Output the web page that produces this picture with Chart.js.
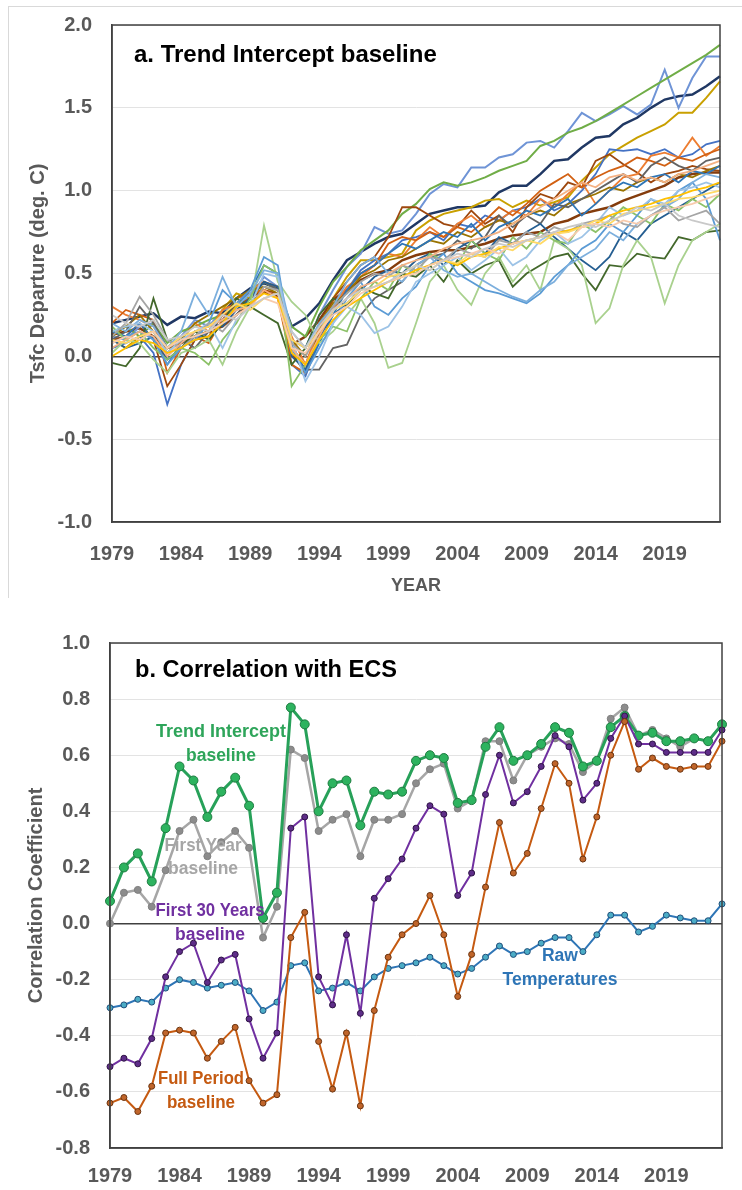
<!DOCTYPE html>
<html>
<head>
<meta charset="utf-8">
<script src="https://cdn.jsdelivr.net/npm/chart.js@4.4.1/dist/chart.umd.min.js"></script>
<style>
html, body { margin: 0; padding: 0; background: #fff; }
#frameA { position: absolute; left: 8px; top: 6px; width: 740px; height: 591px; border-left: 1px solid #d9d9d9; border-top: 1px solid #d9d9d9; }
#wrapA { position: absolute; left: 0; top: 0; width: 742px; height: 600px; }
#wrapB { position: absolute; left: 0; top: 600px; width: 742px; height: 590px; }
</style>
</head>
<body>
<div id="frameA"></div>
<div id="wrapA"><canvas id="plotA"></canvas></div>
<div id="wrapB"><canvas id="plotB"></canvas></div>
<script>
// years on the x axis, 1979..2023
const years = [];
for (let y = 1979; y <= 2023; y++) years.push(String(y));

// ---- panel a: model Tsfc departures (trend intercept baseline), deg C ----
const mHiBlue   = [0.12,0.10,0.18,0.20,0.05,0.12,0.22,0.18,0.28,0.30,0.36,0.48,0.42,0.10,0.05,0.25,0.40,0.54,0.62,0.78,0.74,0.76,0.86,0.98,1.04,1.02,1.14,1.14,1.20,1.22,1.29,1.30,1.26,1.36,1.47,1.42,1.46,1.51,1.46,1.52,1.73,1.50,1.68,1.81,1.81];
const mGreenTop = [0.15,0.18,0.12,0.20,0.08,0.15,0.18,0.22,0.25,0.30,0.35,0.45,0.40,0.18,0.12,0.30,0.45,0.54,0.64,0.70,0.76,0.86,0.92,1.01,1.05,1.03,1.05,1.08,1.12,1.15,1.18,1.27,1.30,1.35,1.38,1.42,1.47,1.52,1.57,1.62,1.67,1.72,1.77,1.82,1.88];
const mNavy     = [0.20,0.22,0.24,0.26,0.19,0.24,0.23,0.27,0.26,0.35,0.41,0.44,0.41,0.18,0.23,0.32,0.46,0.58,0.63,0.68,0.72,0.74,0.80,0.86,0.88,0.90,0.90,0.91,0.99,1.03,1.03,1.10,1.18,1.19,1.26,1.32,1.33,1.40,1.44,1.50,1.55,1.57,1.58,1.63,1.69];
const mGold     = [0.10,0.05,0.12,0.15,0.02,0.10,0.12,0.15,0.28,0.38,0.35,0.42,0.40,0.05,-0.05,0.15,0.35,0.48,0.58,0.58,0.60,0.62,0.76,0.82,0.86,0.88,0.90,0.94,0.95,0.90,0.94,0.91,0.93,0.96,1.06,1.14,1.22,1.27,1.32,1.36,1.40,1.47,1.47,1.56,1.66];
const mMean     = [0.13,0.15,0.17,0.12,0.05,0.08,0.12,0.15,0.18,0.25,0.32,0.39,0.36,0.07,0.12,0.22,0.34,0.40,0.46,0.50,0.52,0.58,0.61,0.63,0.64,0.64,0.66,0.68,0.71,0.73,0.74,0.75,0.80,0.82,0.86,0.88,0.90,0.94,0.97,1.00,1.03,1.08,1.10,1.11,1.11];
const mRust     = [0.10,0.12,0.20,0.10,-0.18,-0.05,0.10,0.12,0.25,0.30,0.35,0.40,0.38,0.02,-0.10,0.15,0.35,0.45,0.55,0.60,0.72,0.90,0.90,0.85,0.80,0.78,0.88,0.80,0.85,0.75,0.90,0.98,0.95,1.05,1.02,1.18,1.22,1.16,1.11,1.05,1.10,1.12,1.15,1.13,1.12];
const mOrange   = [0.30,0.25,0.22,0.18,0.05,0.10,0.20,0.15,0.28,0.32,0.40,0.45,0.42,0.12,-0.05,0.18,0.30,0.42,0.48,0.55,0.62,0.60,0.70,0.78,0.72,0.80,0.85,0.78,0.82,0.88,0.85,0.95,0.90,0.98,1.05,0.92,1.00,1.08,1.10,1.21,1.23,1.20,1.32,1.21,1.27];
const mBlueDip  = [0.05,0.08,0.12,0.02,-0.29,-0.05,0.10,0.15,0.20,0.30,0.38,0.45,0.40,-0.05,-0.12,0.10,0.30,0.40,0.52,0.58,0.62,0.70,0.72,0.75,0.70,0.80,0.78,0.85,0.82,0.88,0.90,0.95,0.88,0.92,1.00,1.10,1.25,1.24,1.25,1.22,1.25,1.20,1.22,1.28,1.30];
const mLtGreen  = [0.02,0.10,0.08,-0.02,-0.10,0.02,0.05,0.10,-0.05,0.15,0.30,0.79,0.45,0.33,0.25,0.08,0.15,0.25,0.35,0.20,-0.07,-0.04,0.20,0.45,0.55,0.40,0.31,0.50,0.60,0.45,0.55,0.40,0.70,0.65,0.55,0.20,0.29,0.55,0.70,0.60,0.32,0.55,0.70,0.75,0.80];
const mDkGreen  = [-0.04,-0.06,0.05,0.35,0.10,0.05,0.15,0.10,0.20,0.35,0.30,0.25,0.20,-0.05,0.05,0.25,0.35,0.30,0.42,0.38,0.35,0.50,0.48,0.55,0.45,0.58,0.50,0.55,0.58,0.42,0.50,0.55,0.60,0.62,0.50,0.40,0.55,0.54,0.62,0.60,0.59,0.72,0.70,0.75,0.76];
const mSkyBlue  = [0.08,0.12,0.15,0.10,-0.05,0.05,0.10,0.20,0.40,0.32,0.40,0.60,0.55,0.05,-0.10,0.05,0.20,0.35,0.45,0.30,0.25,0.35,0.42,0.55,0.62,0.50,0.45,0.40,0.38,0.35,0.32,0.38,0.48,0.55,0.65,0.70,0.80,0.75,0.85,0.95,0.90,1.00,1.05,0.95,0.70];
const mLtBlue   = [0.15,0.18,0.20,0.15,0.02,0.10,0.15,0.20,0.05,0.22,0.30,0.50,0.48,0.10,-0.15,0.00,0.20,0.30,0.25,0.14,0.18,0.30,0.45,0.50,0.55,0.60,0.52,0.58,0.65,0.55,0.60,0.70,0.75,0.68,0.72,0.80,0.90,0.85,0.88,0.95,0.92,1.00,1.02,1.05,1.02];
const mDkGray   = [0.10,0.15,0.30,0.20,0.05,0.10,0.05,0.15,0.20,0.25,0.35,0.45,0.40,0.05,-0.08,-0.08,0.05,0.07,0.25,0.35,0.40,0.45,0.55,0.60,0.62,0.70,0.65,0.72,0.85,0.78,0.85,0.80,0.92,0.90,0.95,1.00,1.05,1.10,1.05,1.15,1.20,1.15,1.12,1.18,1.20];
const mGray     = [0.12,0.20,0.36,0.25,0.10,0.05,0.12,0.20,0.15,0.25,0.30,0.42,0.40,0.08,0.00,0.15,0.30,0.38,0.45,0.50,0.48,0.55,0.52,0.60,0.58,0.65,0.62,0.60,0.70,0.68,0.75,0.72,0.78,0.75,0.80,0.82,0.85,0.80,0.78,0.85,0.90,0.82,0.85,0.88,0.80];
const mLtOrange = [0.05,0.10,0.15,0.12,0.00,0.08,0.15,0.18,0.22,0.28,0.30,0.40,0.35,0.05,-0.05,0.12,0.28,0.35,0.42,0.45,0.50,0.55,0.58,0.60,0.65,0.68,0.70,0.72,0.75,0.80,0.85,0.90,0.95,1.00,1.05,1.02,1.08,1.10,1.06,1.08,1.05,1.10,1.12,1.15,1.18];
const mYellow   = [0.00,0.05,0.10,0.08,0.02,0.05,0.10,0.12,0.20,0.30,0.32,0.38,0.35,0.02,-0.05,0.10,0.22,0.30,0.35,0.40,0.45,0.48,0.52,0.55,0.58,0.55,0.60,0.62,0.65,0.68,0.70,0.72,0.74,0.76,0.78,0.80,0.85,0.88,0.90,0.92,0.95,0.97,1.00,1.02,1.05];
const mPaleYel  = [0.10,0.08,0.12,0.15,0.05,0.12,0.15,0.18,0.25,0.32,0.28,0.35,0.38,0.10,0.05,0.15,0.28,0.32,0.40,0.42,0.48,0.50,0.55,0.52,0.58,0.56,0.62,0.60,0.66,0.64,0.70,0.68,0.74,0.75,0.78,0.82,0.80,0.86,0.88,0.90,0.92,0.95,0.96,0.98,1.00];
const mMidGreen = [0.18,0.10,0.15,0.05,-0.02,0.05,0.02,-0.05,0.10,0.20,0.35,0.55,0.50,-0.18,-0.05,0.10,0.18,0.15,0.35,0.45,0.40,0.55,0.50,0.62,0.58,0.55,0.70,0.62,0.58,0.72,0.65,0.75,0.70,0.68,0.80,0.75,0.82,0.90,0.85,0.80,0.92,0.88,0.95,0.90,0.98];
const mSteel    = [0.15,0.12,0.20,0.10,-0.05,0.08,0.15,0.18,0.22,0.30,0.40,0.55,0.50,0.08,-0.10,0.08,0.25,0.40,0.50,0.55,0.62,0.68,0.65,0.70,0.75,0.72,0.80,0.70,0.78,0.82,0.88,0.85,0.90,0.95,0.85,0.92,1.00,1.05,1.02,1.08,1.10,1.05,1.12,1.10,1.15];
const mBlueMid  = [0.20,0.15,0.22,0.18,0.05,0.15,0.38,0.25,0.48,0.30,0.38,0.52,0.50,0.15,0.05,0.20,0.30,0.45,0.55,0.60,0.50,0.45,0.55,0.60,0.52,0.48,0.50,0.45,0.40,0.36,0.33,0.40,0.45,0.55,0.60,0.65,0.75,0.70,0.80,0.85,0.90,0.95,1.05,1.10,1.08];
const mPaleGray = [0.25,0.20,0.18,0.22,0.10,0.12,0.18,0.15,0.25,0.22,0.30,0.35,0.38,0.15,0.05,0.18,0.28,0.35,0.40,0.42,0.45,0.50,0.55,0.52,0.58,0.62,0.60,0.65,0.68,0.66,0.70,0.72,0.75,0.78,0.80,0.78,0.82,0.85,0.90,0.88,0.92,0.85,0.82,0.80,0.78];
const mOlive    = [0.12,0.18,0.25,0.15,0.05,0.10,0.20,0.25,0.30,0.35,0.40,0.42,0.38,0.10,0.00,0.20,0.32,0.38,0.48,0.52,0.58,0.60,0.65,0.70,0.68,0.75,0.72,0.78,0.82,0.80,0.85,0.88,0.85,0.92,0.95,0.98,1.02,1.00,1.05,1.08,1.05,1.10,1.08,1.12,1.15];
const mDkBlue   = [0.10,0.05,0.08,0.12,-0.02,0.05,0.12,0.20,0.18,0.28,0.35,0.45,0.42,0.00,-0.08,0.12,0.25,0.32,0.40,0.48,0.52,0.50,0.58,0.62,0.55,0.65,0.70,0.62,0.72,0.68,0.75,0.80,0.72,0.65,0.58,0.52,0.60,0.75,0.70,0.80,0.85,0.90,0.95,1.00,1.05];
const mPeach    = [0.08,0.12,0.10,0.15,0.05,0.10,0.12,0.15,0.20,0.25,0.30,0.35,0.32,0.05,0.02,0.15,0.25,0.30,0.38,0.42,0.45,0.48,0.50,0.55,0.58,0.60,0.62,0.65,0.62,0.68,0.70,0.72,0.75,0.70,0.78,0.80,0.78,0.82,0.80,0.85,0.88,0.90,0.92,0.95,0.98];
const mDkOrange = [0.20,0.28,0.25,0.22,-0.10,0.05,0.12,0.08,0.22,0.35,0.38,0.40,0.35,-0.05,-0.10,0.12,0.28,0.40,0.50,0.55,0.68,0.72,0.70,0.75,0.72,0.78,0.75,0.82,0.90,0.85,0.92,1.00,1.05,1.10,1.02,1.08,1.12,1.15,1.20,1.18,1.15,1.20,1.18,1.22,1.25];

// ---- panel b: correlation of Tsfc with ECS across models ----
const corrTrend = [0.08,0.20,0.25,0.15,0.34,0.56,0.51,0.38,0.47,0.52,0.42,0.02,0.11,0.77,0.71,0.40,0.50,0.51,0.35,0.47,0.46,0.47,0.58,0.60,0.59,0.43,0.44,0.63,0.70,0.58,0.60,0.64,0.70,0.68,0.56,0.58,0.70,0.74,0.67,0.68,0.65,0.65,0.66,0.65,0.71];
const corrFirstYear = [0.00,0.11,0.12,0.06,0.19,0.33,0.37,0.24,0.29,0.33,0.27,-0.05,0.06,0.62,0.59,0.33,0.37,0.39,0.24,0.37,0.37,0.39,0.50,0.55,0.57,0.41,0.44,0.65,0.65,0.51,0.60,0.63,0.66,0.64,0.54,0.58,0.73,0.77,0.67,0.69,0.66,0.63,0.66,0.65,0.71];
const corrFirst30 = [-0.51,-0.48,-0.50,-0.41,-0.19,-0.10,-0.07,-0.21,-0.13,-0.11,-0.34,-0.48,-0.39,0.34,0.38,-0.19,-0.29,-0.04,-0.32,0.09,0.16,0.23,0.34,0.42,0.39,0.10,0.18,0.46,0.60,0.43,0.47,0.56,0.67,0.63,0.44,0.50,0.66,0.74,0.64,0.64,0.61,0.61,0.61,0.61,0.69];
const corrFullPeriod = [-0.64,-0.62,-0.67,-0.58,-0.39,-0.38,-0.39,-0.48,-0.42,-0.37,-0.56,-0.64,-0.61,-0.05,0.04,-0.42,-0.59,-0.39,-0.65,-0.31,-0.12,-0.04,0.00,0.10,-0.04,-0.26,-0.11,0.13,0.36,0.18,0.25,0.41,0.57,0.50,0.23,0.38,0.60,0.72,0.55,0.59,0.56,0.55,0.56,0.56,0.65];
const corrRaw = [-0.30,-0.29,-0.27,-0.28,-0.23,-0.20,-0.21,-0.23,-0.22,-0.21,-0.24,-0.31,-0.28,-0.15,-0.14,-0.24,-0.23,-0.21,-0.24,-0.19,-0.16,-0.15,-0.14,-0.12,-0.15,-0.18,-0.16,-0.12,-0.08,-0.11,-0.10,-0.07,-0.05,-0.05,-0.10,-0.04,0.03,0.03,-0.03,-0.01,0.03,0.02,0.01,0.01,0.07];

Chart.defaults.font.family = '"Liberation Sans", Arial, sans-serif';
Chart.defaults.color = '#595959';

const tickFont = { size: 20, weight: 'bold' };
const axisTitleFont = { size: 20, weight: 'bold' };

function everyFifthYear(val, i) {
    return i % 5 === 0 ? years[i] : '';
}

// box around the plot area
const frame = {
    id: 'frame',
    afterDraw(chart) {
        const a = chart.chartArea, ctx = chart.ctx;
        ctx.save();
        ctx.strokeStyle = '#404040';
        ctx.lineWidth = 1.5;
        ctx.strokeRect(a.left, a.top, a.right - a.left, a.bottom - a.top);
        ctx.restore();
    }
};

// panel title + series labels, drawn as canvas text
const panelText = {
    id: 'panelText',
    afterDraw(chart, args, opts) {
        const ctx = chart.ctx, a = chart.chartArea;
        const xs = chart.scales.x, ys = chart.scales.y;
        ctx.save();
        ctx.textBaseline = 'alphabetic';
        ctx.fillStyle = '#000';
        ctx.textAlign = 'left';
        ctx.font = 'bold 24px "Liberation Sans", Arial, sans-serif';
        ctx.fillText(opts.title, a.left + opts.titleDx, a.top + opts.titleDy, opts.titleWidth);
        ctx.textAlign = 'center';
        ctx.font = 'bold 18px "Liberation Sans", Arial, sans-serif';
        (opts.labels || []).forEach(l => {
            ctx.fillStyle = l.color;
            ctx.fillText(l.text, xs.getPixelForValue(l.x), ys.getPixelForValue(l.y), l.w);
        });
        ctx.restore();
    }
};

function line(data, color, width) {
    return { data: data, borderColor: color, borderWidth: width, pointRadius: 0, tension: 0, fill: false };
}

// ---------------- panel a ----------------
new Chart(document.getElementById('plotA'), {
    type: 'line',
    data: {
        labels: years,
        datasets: [
            line(mPaleGray, '#c9c9c9', 1.8),
            line(mPeach, '#f8cbad', 1.8),
            line(mPaleYel, '#ffd966', 1.8),
            line(mYellow, '#ffc000', 1.8),
            line(mLtOrange, '#f4b183', 1.8),
            line(mGray, '#a5a5a5', 1.8),
            line(mLtBlue, '#9dc3e6', 1.8),
            line(mBlueMid, '#7cafdd', 1.8),
            line(mSkyBlue, '#5b9bd5', 1.8),
            line(mMidGreen, '#8cc168', 1.8),
            line(mLtGreen, '#a9d18e', 1.8),
            line(mDkGreen, '#43682b', 1.8),
            line(mSteel, '#2e75b6', 1.8),
            line(mDkBlue, '#255e91', 1.8),
            line(mDkGray, '#636363', 1.8),
            line(mOlive, '#997300', 1.8),
            line(mDkOrange, '#d26012', 1.8),
            line(mOrange, '#ed7d31', 1.8),
            line(mRust, '#9e480e', 1.8),
            line(mBlueDip, '#4472c4', 1.8),
            line(mGold, '#c9a000', 2),
            line(mGreenTop, '#70ad47', 2),
            line(mHiBlue, '#6f94d6', 2),
            line(mMean, '#843c0c', 2.5),
            line(mNavy, '#203864', 2.5)
        ]
    },
    options: {
        responsive: true,
        maintainAspectRatio: false,
        animation: false,
        layout: { padding: { left: 18, right: 22, top: 25, bottom: 0 } },
        plugins: {
            legend: { display: false },
            tooltip: { enabled: false },
            panelText: { title: 'a. Trend Intercept baseline', titleDx: 22, titleDy: 37, titleWidth: 306 }
        },
        scales: {
            x: {
                type: 'category',
                grid: { display: false },
                border: { color: '#404040', width: 1.5 },
                ticks: { autoSkip: false, maxRotation: 0, font: tickFont, padding: 12, callback: everyFifthYear },
                title: { display: true, text: 'YEAR', font: { size: 18, weight: 'bold' }, padding: { top: 0, bottom: 3 } },
                afterFit(s) { s.height = 78; }
            },
            y: {
                min: -1,
                max: 2,
                grid: {
                    drawTicks: false,
                    color: c => c.tick.value === 0 ? '#404040' : '#e3e3e3',
                    lineWidth: c => c.tick.value === 0 ? 1.5 : 1
                },
                border: { color: '#404040', width: 1.5 },
                ticks: { stepSize: 0.5, font: tickFont, padding: 20, callback: v => v.toFixed(1) },
                title: { display: true, text: 'Tsfc Departure (deg. C)', font: axisTitleFont, padding: { top: 8, bottom: 0 } },
                afterFit(s) { s.width = 94; s.paddingTop = 0; s.paddingBottom = 0; }
            }
        }
    },
    plugins: [frame, panelText]
});

// ---------------- panel b ----------------
const cGreen = '#2ea55a', cGray = '#a6a6a6', cPurple = '#7030a0', cOrange = '#c55a11', cBlue = '#2e75b6';

new Chart(document.getElementById('plotB'), {
    type: 'line',
    data: {
        labels: years,
        datasets: [
            { label: 'Full Period baseline', data: corrFullPeriod, borderColor: cOrange, borderWidth: 2,
              pointRadius: 3, pointBackgroundColor: '#c0652a', pointBorderColor: '#6b3410', pointBorderWidth: 1 },
            { label: 'First 30 Years baseline', data: corrFirst30, borderColor: cPurple, borderWidth: 2,
              pointRadius: 3, pointBackgroundColor: '#5e2d88', pointBorderColor: '#2e1245', pointBorderWidth: 1 },
            { label: 'Raw Temperatures', data: corrRaw, borderColor: cBlue, borderWidth: 2,
              pointRadius: 3, pointBackgroundColor: '#4bacc6', pointBorderColor: '#1f4e79', pointBorderWidth: 1 },
            { label: 'Trend Intercept baseline', data: corrTrend, borderColor: '#27a159', borderWidth: 3,
              pointRadius: 4.5, pointBackgroundColor: '#2db35f', pointBorderColor: '#1e7b40', pointBorderWidth: 1 },
            { label: 'First Year baseline', data: corrFirstYear, borderColor: cGray, borderWidth: 2.5,
              pointRadius: 3.5, pointBackgroundColor: '#8c8c8c', pointBorderColor: '#7f7f7f', pointBorderWidth: 1 }
        ]
    },
    options: {
        responsive: true,
        maintainAspectRatio: false,
        animation: false,
        layout: { padding: { left: 16, right: 20, top: 43, bottom: 0 } },
        plugins: {
            legend: { display: false },
            tooltip: { enabled: false },
            panelText: {
                title: 'b. Correlation with ECS', titleDx: 25, titleDy: 34, titleWidth: 262,
                labels: [
                    { text: 'Trend Intercept', color: cGreen, x: 7.98, y: 0.665, w: 130 },
                    { text: 'baseline', color: cGreen, x: 7.98, y: 0.58, w: 70 },
                    { text: 'First Year', color: cGray, x: 6.69, y: 0.259, w: 77 },
                    { text: 'baseline', color: cGray, x: 6.69, y: 0.177, w: 70 },
                    { text: 'First 30 Years', color: cPurple, x: 7.19, y: 0.027, w: 109 },
                    { text: 'baseline', color: cPurple, x: 7.19, y: -0.058, w: 70 },
                    { text: 'Full Period', color: cOrange, x: 6.54, y: -0.571, w: 86 },
                    { text: 'baseline', color: cOrange, x: 6.54, y: -0.656, w: 68 },
                    { text: 'Raw', color: cBlue, x: 32.35, y: -0.132, w: 36 },
                    { text: 'Temperatures', color: cBlue, x: 32.35, y: -0.218, w: 115 }
                ]
            }
        },
        scales: {
            x: {
                type: 'category',
                grid: { display: false },
                border: { color: '#404040', width: 1.5 },
                ticks: { autoSkip: false, maxRotation: 0, font: tickFont, padding: 8, callback: everyFifthYear },
                afterFit(s) { s.height = 42; }
            },
            y: {
                min: -0.8,
                max: 1.0,
                grid: {
                    drawTicks: false,
                    color: c => Math.abs(c.tick.value) < 1e-9 ? '#404040' : '#e3e3e3',
                    lineWidth: c => Math.abs(c.tick.value) < 1e-9 ? 1.5 : 1
                },
                border: { color: '#404040', width: 1.5 },
                ticks: { stepSize: 0.2, font: tickFont, padding: 20, callback: v => v.toFixed(1) },
                title: { display: true, text: 'Correlation Coefficient', font: axisTitleFont, padding: { top: 8, bottom: 0 } },
                afterFit(s) { s.width = 94; s.paddingTop = 0; s.paddingBottom = 0; }
            }
        }
    },
    plugins: [frame, panelText]
});
</script>
</body>
</html>
